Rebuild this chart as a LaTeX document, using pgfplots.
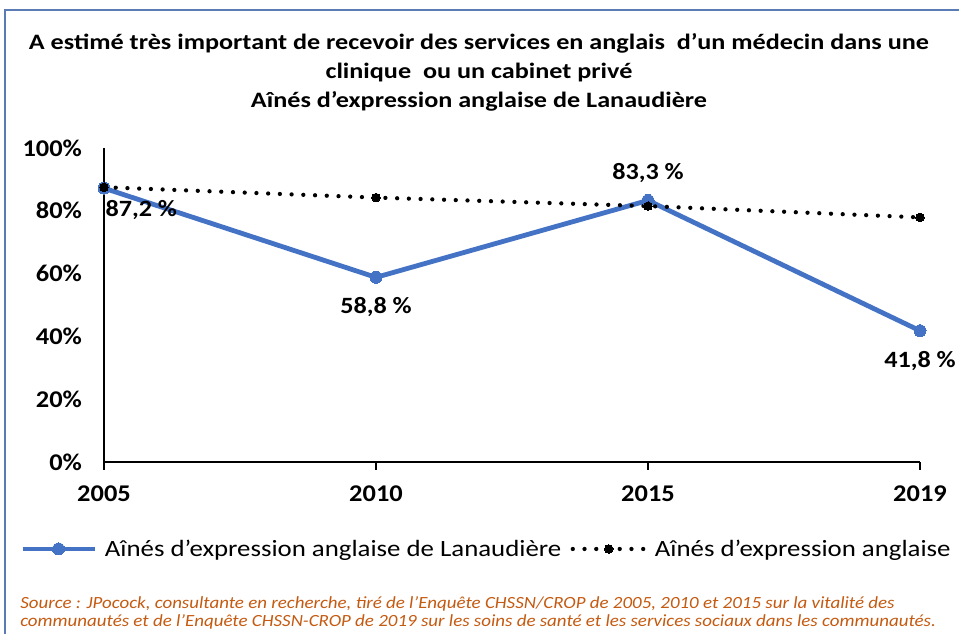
\documentclass[border=0pt]{standalone}
\usepackage{fontspec}
\setmainfont{Carlito}
\usepackage{graphicx}
\usepackage{pgfplots}
\pgfplotsset{compat=1.18}
\definecolor{cblue}{RGB}{68,114,196}
\definecolor{cframe}{RGB}{91,123,180}
\definecolor{csrc}{RGB}{197,90,17}
\newcommand{\sx}[2][1.15]{\scalebox{#1}[1]{#2}}
\begin{document}
\begin{tikzpicture}
\useasboundingbox[fill=white] (0pt,0pt) rectangle (719.25pt,475.5pt);
\draw[cframe,line width=1.2pt] (3.75pt,-5pt) -- (3.75pt,468pt) -- (725pt,468pt);
\node[font=\fontsize{16.5}{21.75}\selectfont\bfseries,align=center] at (359.25pt,421.5pt)
 {\sx[1.19]{A estimé très important de recevoir des services en anglais \ d’un médecin dans une}\\
  \sx[1.19]{clinique \ ou un cabinet privé}\\ \sx[1.19]{Aînés d'expression anglaise de Lanaudière}};
\begin{axis}[at={(78pt,129pt)},anchor=south west,scale only axis,width=612pt,height=235.5pt,
  xmin=0,xmax=3,ymin=0,ymax=100,
  axis x line=bottom, axis y line=left,
  axis line style={black,line width=0.9pt,-},
  xtick={0,1,2,3},xticklabels={\sx[1.1]{2005},\sx[1.1]{2010},\sx[1.1]{2015},\sx[1.1]{2019}},
  ytick={0,20,40,60,80,100},yticklabel={\sx[1.1]{\pgfmathprintnumber{\tick}\%}},
  /pgf/number format/assume math mode=true,
  ticklabel style={font=\fontsize{18}{20}\selectfont\bfseries},
  x tick label style={yshift=-8pt},
  y tick label style={xshift=-7pt},
  xtick style={black,line width=0.9pt},
  major tick length=6pt,
  tick align=outside,
  ytick style={draw=none},
  clip=false,
  legend columns=2,
  legend style={draw=none,fill=none,at={(0.469,-0.277)},anchor=center,
    font=\fontsize{17.5}{20}\selectfont,
    /tikz/every odd column/.append style={column sep=4pt},
    /tikz/every even column/.append style={column sep=5pt}},
  legend image code/.code={%
    \draw[mark repeat=2,mark phase=2,#1] plot coordinates {(0pt,0pt)(27pt,0pt)(54pt,0pt)};},
]
\addplot[cblue,line width=3.6pt,mark=*,mark size=4.5pt,mark options={fill=cblue,draw=cblue,line width=0pt}]
 coordinates {(0,87.2)(1,58.8)(2,83.3)(3,41.8)};
\addlegendentry{\sx[1.15]{Aînés d'expression anglaise de Lanaudière}}
\addplot[black,line width=3.2pt,line cap=round,dash pattern=on 0pt off 8.8pt,mark=*,mark size=3.2pt,mark options={solid,fill=black,line width=0pt}]
 coordinates {(0,87.5)(1,84.2)(2,81.5)(3,77.9)};
\addlegendentry{\sx[1.15]{Aînés d'expression anglaise}}
\begin{scope}[every node/.style={font=\fontsize{17.5}{20}\selectfont\bfseries}]
\node[anchor=north west,inner sep=1pt] at (axis cs:0,83.8) {\sx[1.12]{87,2 \%}};
\node[anchor=north,inner sep=1pt] at (axis cs:1,52.8) {\sx[1.12]{58,8 \%}};
\node[anchor=south,inner sep=1pt] at (axis cs:2,88.5) {\sx[1.12]{83,3 \%}};
\node[anchor=north,inner sep=1pt] at (axis cs:3,35.8) {\sx[1.12]{41,8 \%}};
\end{scope}
\end{axis}
\node[anchor=west,text=csrc,font=\fontsize{12.8}{14}\selectfont\itshape,inner sep=0pt] at (15pt,22.5pt)
 {\sx[1.11]{Source : JPocock, consultante en recherche, tiré de l'Enquête CHSSN/CROP de 2005, 2010 et 2015 sur la vitalité des}};
\node[anchor=west,text=csrc,font=\fontsize{12.8}{14}\selectfont\itshape,inner sep=0pt] at (15pt,9pt)
 {\sx[1.11]{communautés et de l'Enquête CHSSN-CROP de 2019 sur les soins de santé et les services sociaux dans les communautés.}};
\end{tikzpicture}
\end{document}
